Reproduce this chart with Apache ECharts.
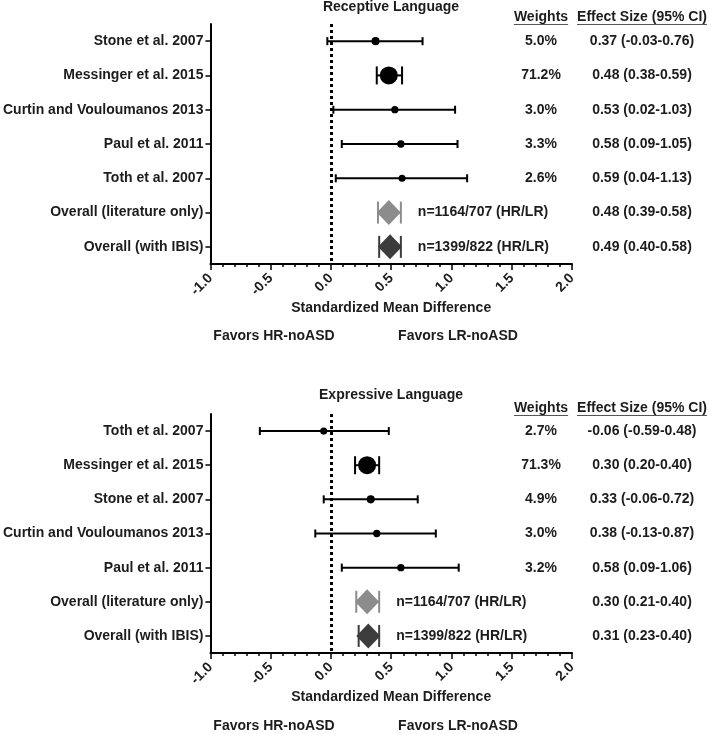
<!DOCTYPE html>
<html>
<head>
<meta charset="utf-8">
<script src="https://cdn.jsdelivr.net/npm/echarts@6/dist/echarts.min.js"></script>
<style>
html,body{margin:0;padding:0;background:#fff;}
#c{width:709px;height:734px;}
</style>
</head>
<body>
<div id="c"></div>
<script>
// ---------- DATA ----------
const recLabels = ['Stone et al. 2007','Messinger et al. 2015','Curtin and Vouloumanos 2013','Paul et al. 2011','Toth et al. 2007','Overall (literature only)','Overall (with IBIS)'];
const recEst = [0.37, 0.48, 0.53, 0.58, 0.59, 0.48, 0.49];
const recLo  = [-0.03, 0.38, 0.02, 0.09, 0.04, 0.39, 0.40];
const recHi  = [0.76, 0.59, 1.03, 1.05, 1.13, 0.58, 0.58];
const recWeights = [5.0, 71.2, 3.0, 3.3, 2.6];
const recN = ['n=1164/707 (HR/LR)', 'n=1399/822 (HR/LR)'];

const expLabels = ['Toth et al. 2007','Messinger et al. 2015','Stone et al. 2007','Curtin and Vouloumanos 2013','Paul et al. 2011','Overall (literature only)','Overall (with IBIS)'];
const expEst = [-0.06, 0.30, 0.33, 0.38, 0.58, 0.30, 0.31];
const expLo  = [-0.59, 0.20, -0.06, -0.13, 0.09, 0.21, 0.23];
const expHi  = [0.48, 0.40, 0.72, 0.87, 1.06, 0.40, 0.40];
const expWeights = [2.7, 71.3, 4.9, 3.0, 3.2];
const expN = ['n=1164/707 (HR/LR)', 'n=1399/822 (HR/LR)'];

const xTicks = [-1.0, -0.5, 0.0, 0.5, 1.0, 1.5, 2.0];
const panelTitles = ['Receptive Language', 'Expressive Language'];
const colHeaders = ['Weights', 'Effect Size (95% CI)'];
const xAxisName = 'Standardized Mean Difference';
const favors = ['Favors HR-noASD', 'Favors LR-noASD'];

// ---------- STYLE ----------
const FF = '"Liberation Sans", Arial, Helvetica, sans-serif';
const TXT = '#1c1c1c';
const FS = 14;
const FONT = 'bold ' + FS + 'px ' + FF;
const GREY = '#8c8c8c';
const DARK = '#3c3c3c';

function fmt(v){ return v.toFixed(2); }
function dotSize(w){ return 4.5 + 1.6 * Math.sqrt(w); }

const chart = echarts.init(document.getElementById('c'), null, {renderer:'canvas'});

const grids = [
  {left:210, width:362, top:24, height:240},
  {left:210, width:362, top:414, height:239}
];

function buildPanel(pi, labels, est, lo, hi, weights, nLabels){
  const nStudies = weights.length;
  const series = [];
  const studyBars = [], studyPts = [], litBar = [], litPt = [], ibisBar = [], ibisPt = [];
  for (let i = 0; i < labels.length; i++){
    if (i < nStudies){
      studyBars.push([lo[i], hi[i], i, weights[i]]);
      studyPts.push({value:[est[i], i], symbolSize: dotSize(weights[i])});
    } else if (i === nStudies){
      litBar.push([lo[i], hi[i], i, 0]);
      litPt.push([est[i], i]);
    } else {
      ibisBar.push([lo[i], hi[i], i, 0]);
      ibisPt.push([est[i], i]);
    }
  }
  function barRender(color, fixedCap, labelText){
    return function(params, api){
      const l = api.value(0), h = api.value(1), idx = api.value(2), w = api.value(3);
      const p1 = api.coord([l, idx]), p2 = api.coord([h, idx]);
      const ch = fixedCap ? fixedCap : Math.max(8, dotSize(w));
      const ls = {stroke: color, lineWidth: 2};
      const children = [
        {type:'line', shape:{x1:p1[0], y1:p1[1], x2:p2[0], y2:p2[1]}, style:ls},
        {type:'line', shape:{x1:p1[0], y1:p1[1]-ch/2, x2:p1[0], y2:p1[1]+ch/2}, style:ls},
        {type:'line', shape:{x1:p2[0], y1:p2[1]-ch/2, x2:p2[0], y2:p2[1]+ch/2}, style:ls}
      ];
      if (labelText){
        children.push({type:'text', x:p2[0]+17, y:p2[1], style:{text: labelText, font: FONT, fill: TXT, textAlign:'left', textVerticalAlign:'middle'}});
      }
      return {type:'group', children};
    };
  }
  const ax = {xAxisIndex:pi, yAxisIndex:pi};
  series.push(Object.assign({type:'custom', name:'studyBar', data: studyBars, renderItem: barRender('#000', 0, null), encode:{x:[0,1], y:2}, z:3}, ax));
  series.push(Object.assign({type:'custom', name:'lit', data: litBar, renderItem: barRender(GREY, 22, nLabels[0]), encode:{x:[0,1], y:2}, z:3}, ax));
  series.push(Object.assign({type:'custom', name:'ibis', data: ibisBar, renderItem: barRender(DARK, 22, nLabels[1]), encode:{x:[0,1], y:2}, z:3}, ax));
  series.push(Object.assign({type:'scatter', name:'studyPt', data: studyPts, symbol:'circle', itemStyle:{color:'#000', opacity:1}, z:4,
    markLine:{silent:true, symbol:'none', label:{show:false}, lineStyle:{color:'#000', width:3, type:[3,3], cap:'butt'}, data:[{xAxis:0}], z:2}}, ax));
  series.push(Object.assign({type:'scatter', name:'litPt', data: litPt, symbol:'diamond', symbolSize:[24,25], itemStyle:{color:GREY, opacity:1}, z:4}, ax));
  series.push(Object.assign({type:'scatter', name:'ibisPt', data: ibisPt, symbol:'diamond', symbolSize:[24,25], itemStyle:{color:DARK, opacity:1}, z:4}, ax));
  // text columns
  const colData = labels.map((_, i) => [est[i], i]);
  series.push(Object.assign({type:'custom', name:'cols', data: colData, z:5, encode:{x:0, y:1},
    renderItem: function(params, api){
      const i = params.dataIndex;
      const y = api.coord([0, i])[1];
      const ch = [];
      if (i < nStudies){
        ch.push({type:'text', x:541, y:y, style:{text: weights[i].toFixed(1) + '%', font: FONT, fill: TXT, textAlign:'center', textVerticalAlign:'middle'}});
      }
      ch.push({type:'text', x:642, y:y, style:{text: fmt(est[i]) + ' (' + fmt(lo[i]) + '-' + fmt(hi[i]) + ')', font: FONT, fill: TXT, textAlign:'center', textVerticalAlign:'middle'}});
      return {type:'group', children: ch};
    }}, ax));
  return series;
}

function xAxisCfg(gi){
  return {
    type:'value', gridIndex: gi, min:-1, max:2, interval:0.5,
    name: xAxisName, nameLocation:'middle', nameGap:37,
    nameTextStyle:{fontFamily:FF, fontWeight:'bold', fontSize:FS, color:TXT},
    axisLine:{show:true, onZero:false, lineStyle:{color:'#000', width:2}},
    axisTick:{show:true, length:6, lineStyle:{color:'#000', width:1.5}},
    minorTick:{show:true, splitNumber:5, length:3, lineStyle:{color:'#000', width:1.5}},
    splitLine:{show:false},
    axisLabel:{rotate:45, margin:12, fontFamily:FF, fontWeight:'bold', fontSize:FS, color:TXT,
      formatter: v => v.toFixed(1)}
  };
}
function yAxisCfg(gi, labels){
  return {
    type:'category', gridIndex: gi, data: labels, inverse:true,
    axisLine:{show:true, onZero:false, lineStyle:{color:'#000', width:2}},
    axisTick:{show:true, alignWithLabel:true, length:5, lineStyle:{color:'#000', width:1.5}},
    axisLabel:{margin:7, fontFamily:FF, fontWeight:'bold', fontSize:FS, color:TXT},
    splitLine:{show:false}
  };
}

// headers / titles via measured text
const mctx = document.createElement('canvas').getContext('2d');
mctx.font = FONT;
function hdr(text, cx, y){
  const w = mctx.measureText(text).width;
  return [
    {type:'text', x:cx, y:y, style:{text:text, font:FONT, fill:TXT, textAlign:'center', textVerticalAlign:'middle'}},
    {type:'line', shape:{x1:cx - w/2, y1:y+7.5, x2:cx + w/2, y2:y+7.5}, style:{stroke:'#555', lineWidth:1}}
  ];
}
const graphics = [];
[[7, 17, 336], [395, 408, 726]].forEach((ys, i) => {
  graphics.push({type:'text', x:391, y:ys[0], style:{text: panelTitles[i], font: FONT, fill: TXT, textAlign:'center', textVerticalAlign:'middle'}});
  graphics.push(...hdr(colHeaders[0], 541, ys[1]));
  graphics.push(...hdr(colHeaders[1], 642, ys[1]));
  graphics.push({type:'text', x:274, y:ys[2], style:{text: favors[0], font: FONT, fill: TXT, textAlign:'center', textVerticalAlign:'middle'}});
  graphics.push({type:'text', x:458, y:ys[2], style:{text: favors[1], font: FONT, fill: TXT, textAlign:'center', textVerticalAlign:'middle'}});
});

chart.setOption({
  animation:false,
  backgroundColor:'#fff',
  grid: grids,
  xAxis: [xAxisCfg(0), xAxisCfg(1)],
  yAxis: [yAxisCfg(0, recLabels), yAxisCfg(1, expLabels)],
  series: [].concat(
    buildPanel(0, recLabels, recEst, recLo, recHi, recWeights, recN),
    buildPanel(1, expLabels, expEst, expLo, expHi, expWeights, expN)
  ),
  graphic: graphics
});
</script>
</body>
</html>
